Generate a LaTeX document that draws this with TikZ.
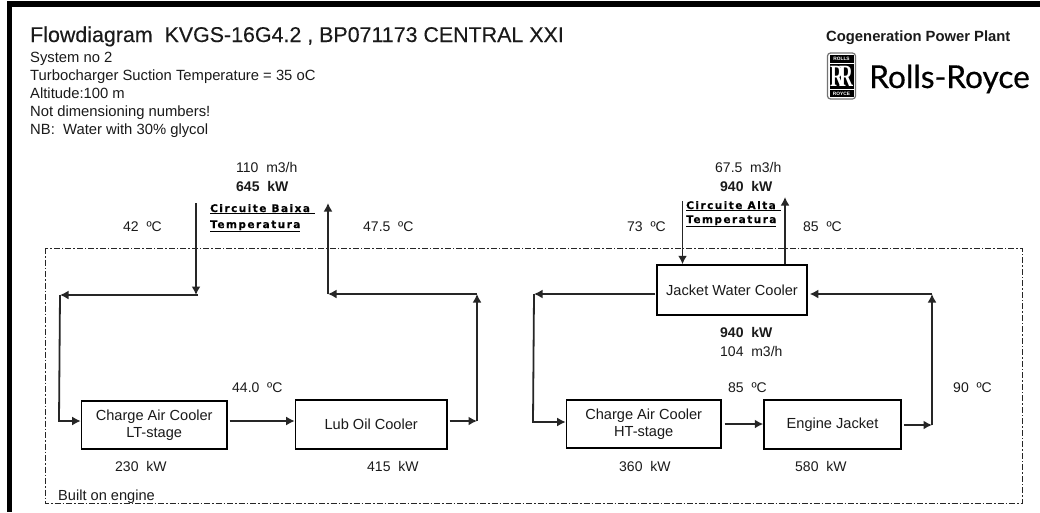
\documentclass[tikz,border=0pt]{standalone}
\usepackage{fontspec}
\setmainfont{Liberation Sans}
\newfontfamily\logofont{Lato}
\newfontfamily\crestfont{Liberation Serif}
\newfontfamily\stampfont[LetterSpace=14,FakeBold=0.3]{DejaVu Sans Bold}
\usetikzlibrary{arrows.meta}
\definecolor{ink}{HTML}{1A1A1A}
\tikzset{
  x=1pt,y=-1pt,
  lbl/.style={anchor=base west,inner sep=0pt,text=ink,font=\fontsize{14}{14}\selectfont},
  headlbl/.style={lbl,font=\fontsize{14.8}{15}\selectfont},
  boldlbl/.style={lbl,font=\fontsize{14}{14}\selectfont\bfseries},
  stamp/.style={anchor=base west,inner sep=0pt,text=black,font=\fontsize{10.5}{10.5}\stampfont},
  unit/.style={draw=black,line width=1.5pt,fill=white,inner sep=0pt,align=center,text=ink,font=\fontsize{14.6}{17.5}\selectfont},
  pipe/.style={draw=black!85,line width=1.8pt},
  flow/.style={pipe,-{Latex[length=8.5pt,width=9pt]}},
  limit/.style={draw=black!85,line width=0.8pt,dash pattern=on 6pt off 2pt on 1.5pt off 2pt},
  crest/.style={inner sep=0pt,text=white,font=\fontsize{4.8}{5}\selectfont\bfseries},
}
\begin{document}
\begin{tikzpicture}
\useasboundingbox (0,0) rectangle (1040,512);
\fill[white] (0,0) rectangle (1040,512);
\fill[black] (7,1) rectangle (1040,7);
\fill[black] (7,1) rectangle (12,512);
% built on engine limit
\draw[limit] (45,248) rectangle (1022,503);
% heading
\node[lbl,font=\fontsize{21.4}{22}\selectfont\addfontfeature{FakeBold=0.2}] (title) at (30,42) {Flowdiagram~~KVGS-16G4.2 , BP071173 CENTRAL XXI};
\node[headlbl] (t1) at (30,62) {System no 2};
\node[headlbl] (t2) at (30,80) {Turbocharger Suction Temperature = 35 oC};
\node[headlbl] (t3) at (30,98) {Altitude:100 m};
\node[headlbl] (t4) at (30,116) {Not dimensioning numbers!};
\node[headlbl] (t5) at (30,134) {NB:~~Water with 30\% glycol};
% logo
\node[lbl,font=\fontsize{14.8}{15}\selectfont\bfseries] (cogen) at (826,41) {Cogeneration Power Plant};
\node[anchor=base west,inner sep=0pt,text=black,font=\fontsize{31.6}{33}\logofont\addfontfeature{FakeBold=0.5}] (rr) at (869,88) {Rolls-Royce};
\draw[draw=black!55,fill=white,line width=1.2pt,rounded corners=3pt] (827.5,53) rectangle (855.5,99);
\fill[black] (829.5,55) rectangle (853.5,63);
\fill[black] (829.5,64.2) rectangle (853.5,88.8);
\fill[black] (829.5,90) rectangle (853.5,97);
\node[crest] (rollsw) at (841.5,59.2) {ROLLS};
\node[crest] (roycew) at (841.5,93.6) {ROYCE};
\node[inner sep=0pt,text=white] (rrmono) at (841.5,76) {\scalebox{0.62}[1]{\fontsize{31}{31}\crestfont\bfseries R\kern-0.26em R}};
% units
\node[unit,minimum width=145.5pt,minimum height=48pt] (cal) at (154.2,425) {Charge Air Cooler\\LT-stage};
\node[unit,minimum width=151.5pt,minimum height=49pt] (lub) at (371.2,424.5) {Lub Oil Cooler};
\node[unit,minimum width=150pt,minimum height=50pt] (jwc) at (732,290) {Jacket Water Cooler};
\node[unit,minimum width=154.5pt,minimum height=48pt] (cah) at (643.7,424) {Charge Air Cooler\\HT-stage};
\node[unit,minimum width=137pt,minimum height=49pt] (ej) at (832.5,424.5) {Engine Jacket};
% junction levels and free ends
\coordinate (ltin) at (196,203);
\coordinate (ltout) at (328,203);
\coordinate (lta) at (196,295);
\coordinate (ltb) at (60,295);
\coordinate (ltc) at (59,421);
\coordinate (ltd) at (328,294);
\coordinate (lte) at (477,294);
\coordinate (ltf) at (477,421);
\coordinate (htin) at (682.5,201);
\coordinate (htout) at (785,197);
\coordinate (hta) at (534,294);
\coordinate (htb) at (533,422);
\coordinate (htc) at (932,294);
\coordinate (htd) at (932,425);
\coordinate (hte) at (0,424);
% low temperature circuit
\draw[flow] (ltin) -- (lta);
\draw[flow,shorten <=-2pt] (lta) -- (ltb);
\draw[flow] (ltb) -- (ltc) -- (cal.west |- ltc);
\draw[flow,shorten <=2pt] (cal.east |- ltc) -- (lub.west |- ltc);
\draw[flow,shorten <=2pt] (lub.east |- ltf) -- (ltf);
\draw[flow] (ltf) -- (lte);
\draw[flow] (lte) -- (ltd);
\draw[flow] (ltd) -- (ltout);
% high temperature circuit
\draw[flow] (htin) -- (jwc.north -| htin);
\draw[flow] (jwc.north -| htout) -- (htout);
\draw[flow,shorten <=1pt] (jwc.west |- hta) -- (hta);
\draw[flow] (hta) -- (htb) -- (cah.west |- htb);
\draw[flow,shorten <=3pt] (cah.east |- hte) -- (ej.west |- hte);
\draw[flow,shorten <=2pt] (ej.east |- htd) -- (htd);
\draw[flow] (htd) -- (htc);
\draw[flow,shorten >=2pt] (htc) -- (jwc.east |- htc);
% low temperature labels
\node[lbl] (l1) at (236,172) {110~~m3/h};
\node[boldlbl] (l2) at (236,191) {645~~kW};
\node[stamp] (s1) at (210,212) {\underline{Circuite Baixa\ }};
\node[stamp] (s2) at (210,228) {\underline{Temperatura}};
\node[lbl] (l3) at (123,231) {42~~ºC};
\node[lbl] (l4) at (363,231) {47.5~~ºC};
\node[lbl] (l5) at (232,392) {44.0~~ºC};
\node[lbl] (l6) at (115,471) {230~~kW};
\node[lbl] (l7) at (367,471) {415~~kW};
\node[lbl,font=\fontsize{14.6}{15}\selectfont] (l8) at (58,500) {Built on engine};
% high temperature labels
\node[lbl] (h1) at (715,172) {67.5~~m3/h};
\node[boldlbl] (h2) at (720,191) {940~~kW};
\node[stamp] (s3) at (686,209) {\underline{Circuite Alta\ }};
\node[stamp] (s4) at (686,223) {\underline{Temperatura}};
\node[lbl] (h3) at (627,231) {73~~ºC};
\node[lbl] (h4) at (803,231) {85~~ºC};
\node[boldlbl] (h5) at (720,337) {940~~kW};
\node[lbl] (h6) at (720,356) {104~~m3/h};
\node[lbl] (h7) at (728,392) {85~~ºC};
\node[lbl] (h8) at (953,392) {90~~ºC};
\node[lbl] (h9) at (619,471) {360~~kW};
\node[lbl] (h10) at (795,471) {580~~kW};
\end{tikzpicture}
\end{document}
